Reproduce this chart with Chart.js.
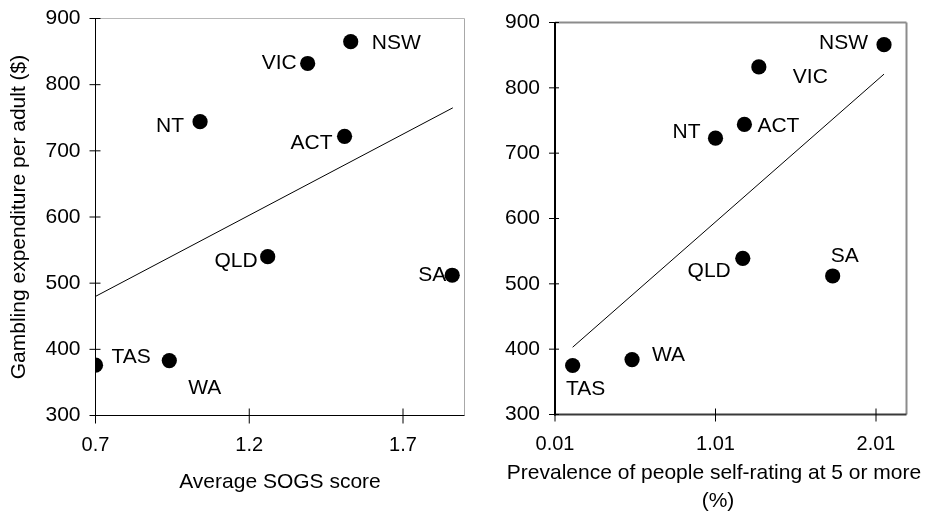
<!DOCTYPE html>
<html>
<head>
<meta charset="utf-8">
<script src="https://cdn.jsdelivr.net/npm/chart.js@4"></script>
<style>
  html, body { margin: 0; padding: 0; background: #fff; }
  #wrap { position: relative; width: 933px; height: 515px; overflow: hidden; }
  #left { position: absolute; left: 0; top: 0; }
  #right { position: absolute; left: 468px; top: 0; }
</style>
</head>
<body>
<div id="wrap">
  <canvas id="left" width="468" height="515"></canvas>
  <canvas id="right" width="465" height="515"></canvas>
</div>
<script>
// State / territory names, in the order used by both series below
const states = ['NSW', 'VIC', 'NT', 'ACT', 'QLD', 'SA', 'TAS', 'WA'];

// Left panel: average SOGS score vs gambling expenditure per adult ($)
const sogsScore = [1.53, 1.39, 1.04, 1.51, 1.26, 1.86, 0.70, 0.94];
const spendBySogs = [865, 832, 744, 722, 540, 512, 376, 383];
const sogsTrendX = [0.70, 1.862];
const sogsTrendY = [480, 765];

// Right panel: prevalence of self-rating 5+ (%) vs expenditure per adult ($)
const selfRating = [2.06, 1.28, 1.01, 1.19, 1.18, 1.74, 0.12, 0.49];
const spendBySelfRating = [866, 832, 723, 744, 539, 512, 375, 384];
const ratingTrendX = [0.12, 2.06];
const ratingTrendY = [403, 821];

// Tick values and their printed labels
const spendTicks = [300, 400, 500, 600, 700, 800, 900];
const sogsTicks = [0.7, 1.2, 1.7];
const sogsTickLabels = ['0.7', '1.2', '1.7'];
const ratingTicks = [0.01, 1.01, 2.01];
const ratingTickLabels = ['0.01', '1.01', '2.01'];

const FONT = "'Liberation Sans', Arial, Helvetica, sans-serif";
Chart.defaults.font.family = FONT;
Chart.defaults.color = '#000';

function zip(xs, ys) { return xs.map((x, i) => ({ x: x, y: ys[i] })); }

// Tick labels may hang past the plot edges; the layout padding already leaves room
function noOverhang(s) {
  s.paddingTop = 0; s.paddingBottom = 0; s.paddingLeft = 0; s.paddingRight = 0;
}

// Axis lines, the plot frame and tick marks that cross the axes
const framePlugin = {
  id: 'frame',
  beforeDatasetsDraw(chart, args, o) {
    const { ctx, chartArea: a, scales: { x, y } } = chart;
    ctx.save();
    ctx.lineCap = 'butt';
    const line = (x1, y1, x2, y2, color, w) => {
      ctx.strokeStyle = color; ctx.lineWidth = w;
      ctx.beginPath(); ctx.moveTo(x1, y1); ctx.lineTo(x2, y2); ctx.stroke();
    };
    line(a.left, a.top, a.right, a.top, o.topColor, o.frameWidth);
    line(a.right, a.top, a.right, a.bottom, o.rightColor, o.frameWidth);
    line(a.left - o.axisWidth / 2, a.bottom, a.right, a.bottom, o.bottomColor, o.axisWidth);
    line(a.left, a.top, a.left, a.bottom + o.axisWidth / 2, o.leftColor, o.axisWidth);
    y.ticks.forEach(t => {
      const py = y.getPixelForValue(t.value);
      line(a.left - o.yTickOut, py, a.left + o.yTickIn, py, '#000', 1);
    });
    x.ticks.forEach(t => {
      const px = x.getPixelForValue(t.value);
      line(px, a.bottom - o.xTickIn, px, a.bottom + o.xTickOut, '#000', 1);
    });
    ctx.restore();
  }
};

// Name of each state beside its marker, plus the horizontal axis title
const labelPlugin = {
  id: 'pointNames',
  afterDatasetsDraw(chart, args, o) {
    const { ctx, scales: { x, y } } = chart;
    const pts = chart.data.datasets[0].data;
    ctx.save();
    ctx.fillStyle = '#000';
    ctx.font = '21px ' + FONT;
    ctx.textBaseline = 'middle';
    pts.forEach((p, i) => {
      const place = o.placement[i];
      ctx.textAlign = place[0];
      ctx.fillText(o.names[i], x.getPixelForValue(p.x) + place[1], y.getPixelForValue(p.y) + place[2]);
    });
    ctx.textAlign = 'center';
    o.title.forEach(t => ctx.fillText(t[0], t[1], t[2]));
    ctx.restore();
  }
};

function makePanel(canvasId, cfg) {
  return new Chart(document.getElementById(canvasId), {
    type: 'scatter',
    data: {
      datasets: [
        {
          data: zip(cfg.xs, cfg.ys),
          pointRadius: 7.6,
          pointBackgroundColor: '#000',
          pointBorderWidth: 0,
          showLine: false
        },
        {
          data: zip(cfg.trendX, cfg.trendY),
          showLine: true,
          borderColor: '#000',
          borderWidth: 1,
          pointRadius: 0,
          fill: false
        }
      ]
    },
    options: {
      responsive: false,
      animation: false,
      events: [],
      layout: { padding: cfg.padding, autoPadding: false },
      plugins: {
        legend: { display: false },
        tooltip: { enabled: false },
        frame: cfg.frame,
        pointNames: { names: states, placement: cfg.placement, title: cfg.xTitle }
      },
      scales: {
        x: {
          type: 'linear',
          min: cfg.xMin, max: cfg.xMax,
          afterBuildTicks: s => { s.ticks = cfg.xTicks.map(v => ({ value: v })); },
          afterFit: s => { s.height = cfg.xHeight; noOverhang(s); },
          grid: { display: false, drawTicks: false },
          border: { display: false },
          ticks: {
            autoSkip: false, maxRotation: 0, padding: 18,
            font: { size: 20 }, color: '#000',
            callback: (v, i) => cfg.xTickLabels[i]
          }
        },
        y: {
          type: 'linear',
          min: 300, max: 900,
          afterBuildTicks: s => { s.ticks = spendTicks.map(v => ({ value: v })); },
          afterFit: s => { s.width = cfg.yWidth; noOverhang(s); },
          grid: { display: false, drawTicks: false },
          border: { display: false },
          title: cfg.yTitle,
          ticks: {
            autoSkip: false, padding: 15,
            font: { size: 21 }, color: '#000',
            callback: v => String(v)
          }
        }
      }
    },
    plugins: [framePlugin, labelPlugin]
  });
}

makePanel('left', {
  xs: sogsScore, ys: spendBySogs,
  trendX: sogsTrendX, trendY: sogsTrendY,
  xMin: 0.7, xMax: 1.9,
  xTicks: sogsTicks, xTickLabels: sogsTickLabels,
  padding: { left: 0, top: 18.5, right: 3.5, bottom: 0 },
  xHeight: 99.5, yWidth: 95.5,
  yTitle: {
    display: true, text: 'Gambling expenditure per adult ($)',
    font: { size: 21 }, color: '#000', padding: { top: 7, bottom: 0 }
  },
  frame: {
    topColor: '#b8b8b8', rightColor: '#a8a8a8', frameWidth: 1,
    leftColor: '#000', bottomColor: '#000', axisWidth: 1,
    yTickOut: 6, yTickIn: 5, xTickIn: 7, xTickOut: 8
  },
  placement: [
    ['left', 21, 2], ['right', -11, 0], ['right', -16, 4], ['right', -12, 7],
    ['right', -10, 5], ['right', -6, 0], ['left', 16, -8], ['left', 19, 28]
  ],
  xTitle: [['Average SOGS score', 280, 482]]
});

makePanel('right', {
  xs: selfRating, ys: spendBySelfRating,
  trendX: ratingTrendX, trendY: ratingTrendY,
  xMin: 0.01, xMax: 2.2,
  xTicks: ratingTicks, xTickLabels: ratingTickLabels,
  padding: { left: 0, top: 22.5, right: 26.5, bottom: 0 },
  xHeight: 100.5, yWidth: 87,
  yTitle: { display: false },
  frame: {
    topColor: '#8c8c8c', rightColor: '#8c8c8c', frameWidth: 2,
    leftColor: '#000', bottomColor: '#3a3a3a', axisWidth: 2,
    yTickOut: 6, yTickIn: 4, xTickIn: 6, xTickOut: 7
  },
  placement: [
    ['right', -16, -2], ['left', 34, 10], ['right', -15, -6], ['left', 13, 2],
    ['right', -12, 13], ['center', 12, -20], ['center', 13, 24], ['left', 20, -4]
  ],
  xTitle: [
    ['Prevalence of people self-rating at 5 or more', 246, 473],
    ['(%)', 250, 501]
  ]
});
</script>
</body>
</html>
